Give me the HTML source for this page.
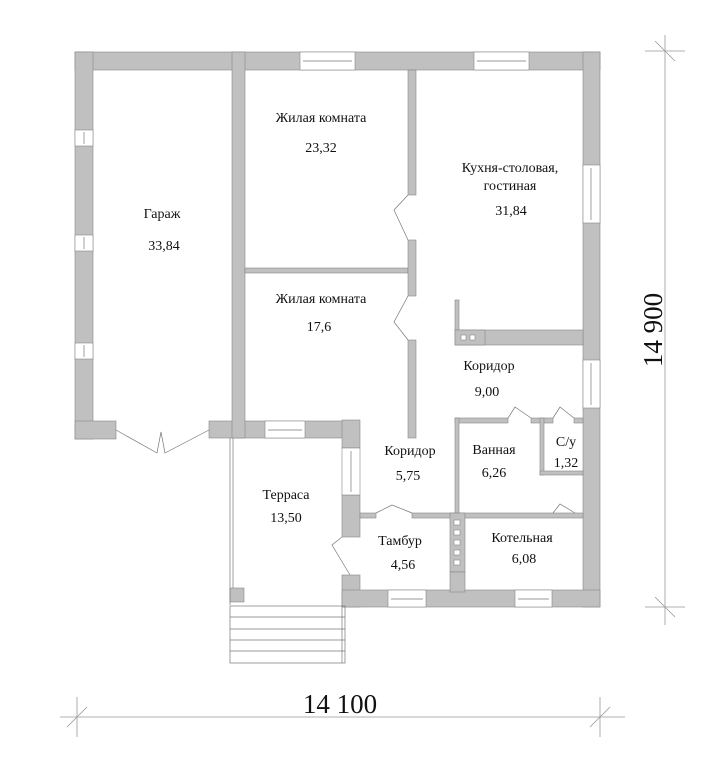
<!DOCTYPE html>
<html><head><meta charset="utf-8"><style>
html,body{margin:0;padding:0;background:#fff;width:710px;height:768px;overflow:hidden}
text{font-family:"Liberation Serif",serif;fill:#111}
</style></head><body>
<svg width="710" height="768" viewBox="0 0 710 768" xmlns="http://www.w3.org/2000/svg">
<g fill="#c0c0c0" stroke="#888" stroke-width="0.6">
<!-- outer top -->
<rect x="75" y="52" width="525" height="18"/>
<!-- left wall -->
<rect x="75" y="52" width="18" height="387"/>
<!-- garage bottom -->
<rect x="75" y="421" width="41" height="18"/>
<rect x="209" y="421" width="136" height="17"/>
<!-- garage/living wall -->
<rect x="232" y="52" width="13" height="386"/>
<!-- living separation -->
<rect x="245" y="268" width="163" height="5"/>
<!-- partition living/kitchen -->
<rect x="408" y="70" width="8" height="125"/>
<rect x="408" y="240" width="8" height="56"/>
<rect x="408" y="340" width="8" height="98"/>
<!-- right wall -->
<rect x="583" y="52" width="17" height="555"/>
<!-- kitchen bottom -->
<rect x="455" y="330" width="128" height="15"/>
<rect x="455" y="300" width="4" height="30"/>
<!-- corridor 9 bottom -->
<rect x="455" y="418" width="53" height="5"/>
<rect x="531" y="418" width="22" height="5"/>
<rect x="574" y="418" width="9" height="5"/>
<!-- bath left wall -->
<rect x="455" y="418" width="4" height="97"/>
<!-- c/u -->
<rect x="540" y="418" width="4" height="57"/>
<rect x="540" y="471" width="43" height="4"/>
<!-- corridor left wall -->
<rect x="342" y="420" width="18" height="28"/>
<rect x="342" y="495" width="18" height="42"/>
<rect x="342" y="575" width="18" height="32"/>
<!-- mid wall -->
<rect x="360" y="513" width="16" height="5"/>
<rect x="412" y="513" width="171" height="5"/>
<!-- bottom wall -->
<rect x="342" y="590" width="258" height="17"/>
<!-- chimney -->
<rect x="450" y="513" width="15" height="59"/>
<rect x="450" y="572" width="15" height="20"/>
<rect x="455" y="330" width="30" height="15"/>
<!-- terrace square -->
<rect x="230" y="588" width="14" height="14"/>
</g>
<!-- windows (white cutouts) -->
<g fill="#fff" stroke="#888" stroke-width="0.6">
<rect x="300" y="52" width="55" height="18"/>
<rect x="474" y="52" width="55" height="18"/>
<rect x="75" y="130" width="18" height="16"/>
<rect x="75" y="235" width="18" height="16"/>
<rect x="75" y="343" width="18" height="16"/>
<rect x="583" y="165" width="17" height="58"/>
<rect x="583" y="360" width="17" height="48"/>
<rect x="265" y="421" width="40" height="17"/>
<rect x="342" y="448" width="18" height="47"/>
<rect x="388" y="590" width="38" height="17"/>
<rect x="515" y="590" width="37" height="17"/>
<!-- chimney holes -->
<rect x="461" y="335" width="5" height="5"/><rect x="470" y="335" width="5" height="5"/>
<rect x="454" y="520" width="6" height="5"/><rect x="454" y="530" width="6" height="5"/><rect x="454" y="540" width="6" height="5"/><rect x="454" y="550" width="6" height="5"/><rect x="454" y="560" width="6" height="5"/>
</g>
<g stroke="#777" stroke-width="0.7" fill="none">
<line x1="303" y1="61" x2="352" y2="61"/><line x1="477" y1="61" x2="526" y2="61"/>
<line x1="591" y1="168" x2="591" y2="220"/><line x1="591" y1="363" x2="591" y2="405"/>
<line x1="268" y1="430" x2="302" y2="430"/><line x1="351" y1="451" x2="351" y2="492"/>
<line x1="391" y1="599" x2="423" y2="599"/><line x1="518" y1="599" x2="549" y2="599"/>
<line x1="84" y1="132" x2="84" y2="144"/><line x1="84" y1="237" x2="84" y2="249"/><line x1="84" y1="345" x2="84" y2="357"/>
<!-- doors -->
<polyline points="116,430 157,453 161,432 165,453 209,430"/>
<polyline points="408,195 394,210 408,240"/>
<polyline points="408,296 394,322 408,340"/>
<polyline points="508,418 515,407 531,418"/>
<polyline points="553,418 560,407 574,418"/>
<polyline points="376,513 392,505 412,513"/>
<polyline points="553,513 560,504 575,513"/>
<polyline points="342,537 332,545 350,575"/>
<!-- terrace -->
<line x1="230" y1="438" x2="230" y2="605"/><line x1="233" y1="438" x2="233" y2="588"/>
<!-- stairs -->
<rect x="230" y="606" width="115" height="57"/>
<line x1="230" y1="617" x2="345" y2="617"/><line x1="230" y1="629" x2="345" y2="629"/>
<line x1="230" y1="640" x2="345" y2="640"/><line x1="230" y1="651" x2="345" y2="651"/>
<line x1="342" y1="606" x2="342" y2="663"/>
</g>
<!-- dimensions -->
<g stroke="#999" stroke-width="0.8">
<line x1="60" y1="717" x2="625" y2="717"/>
<line x1="77" y1="697" x2="77" y2="737"/><line x1="67" y1="727" x2="87" y2="707"/>
<line x1="600" y1="697" x2="600" y2="737"/><line x1="590" y1="727" x2="610" y2="707"/>
<line x1="665" y1="35" x2="665" y2="625"/>
<line x1="645" y1="51" x2="685" y2="51"/><line x1="655" y1="41" x2="675" y2="61"/>
<line x1="645" y1="607" x2="685" y2="607"/><line x1="655" y1="597" x2="675" y2="617"/>
</g>
<text x="340" y="713" font-size="27" text-anchor="middle">14 100</text>
<text transform="translate(662,330) rotate(-90)" font-size="27" text-anchor="middle">14 900</text>
<g font-size="14" text-anchor="middle">
<text x="162" y="218">Гараж</text><text x="164" y="250">33,84</text>
<text x="321" y="122">Жилая комната</text><text x="321" y="152">23,32</text>
<text x="510" y="172">Кухня-столовая,</text><text x="510" y="190">гостиная</text><text x="511" y="215">31,84</text>
<text x="321" y="303">Жилая комната</text><text x="319" y="331">17,6</text>
<text x="489" y="370">Коридор</text><text x="487" y="396">9,00</text>
<text x="410" y="455">Коридор</text><text x="408" y="480">5,75</text>
<text x="494" y="454">Ванная</text><text x="494" y="477">6,26</text>
<text x="566" y="446">С/у</text><text x="566" y="467">1,32</text>
<text x="286" y="499">Терраса</text><text x="286" y="522">13,50</text>
<text x="400" y="545">Тамбур</text><text x="403" y="569">4,56</text>
<text x="522" y="542">Котельная</text><text x="524" y="563">6,08</text>
</g>
</svg>
</body></html>
